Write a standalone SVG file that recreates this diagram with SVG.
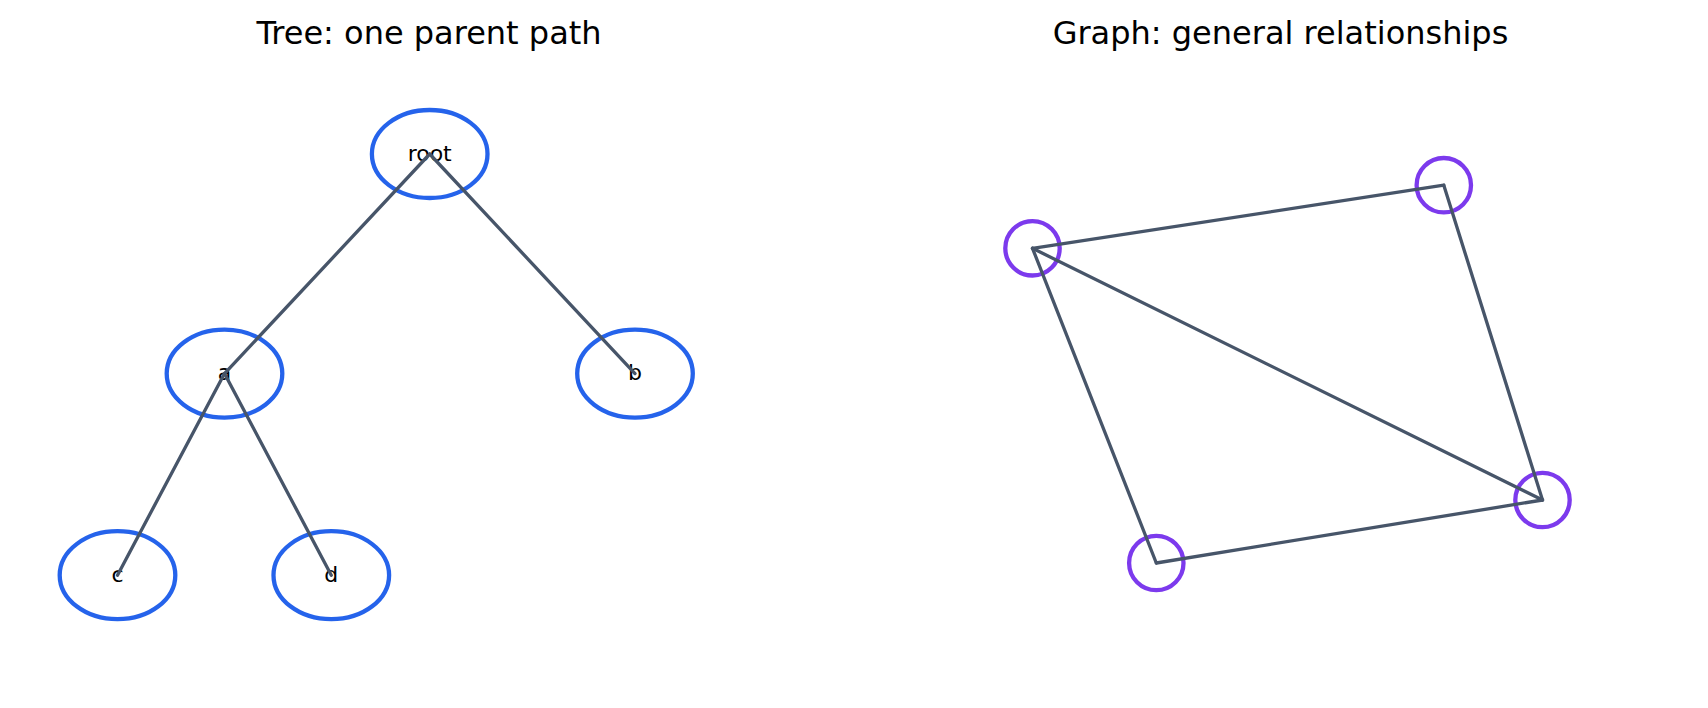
<svg xmlns="http://www.w3.org/2000/svg" width="1708" height="708" viewBox="0 0 1708 708">
<style>
.bg{fill:#ffffff}
.title{font-family:"DejaVu Sans","Liberation Sans",sans-serif;font-size:32px;fill:#000000;text-anchor:middle}
.lbl{font-family:"DejaVu Sans","Liberation Sans",sans-serif;font-size:22px;fill:#000000;text-anchor:middle}
.tnode{fill:none;stroke:#2563eb;stroke-width:4.3}
.gnode{fill:none;stroke:#7c3aed;stroke-width:4.3}
.edge{stroke:#475569;stroke-width:3.3;fill:none;stroke-linecap:round}
</style>
<rect class="bg" x="0" y="0" width="1708" height="708"/>
<text class="title" x="429" y="44">Tree: one parent path</text>
<text class="title" x="1280.5" y="44">Graph: general relationships</text>
<g id="tree-nodes">
<g id="node-root"><ellipse class="tnode" cx="429.7" cy="154" rx="57.8" ry="44"/><text class="lbl" x="429.7" y="160.5">root</text></g>
<g id="node-a"><ellipse class="tnode" cx="224.5" cy="373.6" rx="57.8" ry="44"/><text class="lbl" x="224.5" y="380">a</text></g>
<g id="node-b"><ellipse class="tnode" cx="635" cy="373.6" rx="57.8" ry="44"/><text class="lbl" x="635" y="380">b</text></g>
<g id="node-c"><ellipse class="tnode" cx="117.5" cy="575.2" rx="57.8" ry="44"/><text class="lbl" x="117.5" y="581.6">c</text></g>
<g id="node-d"><ellipse class="tnode" cx="331.3" cy="575.2" rx="57.8" ry="44"/><text class="lbl" x="331.3" y="581.6">d</text></g>
</g>
<g id="graph-nodes">
<g id="node-g1"><circle class="gnode" cx="1032.5" cy="248.3" r="27.2"/></g>
<g id="node-g2"><circle class="gnode" cx="1443.8" cy="185.2" r="27.2"/></g>
<g id="node-g3"><circle class="gnode" cx="1156.3" cy="563" r="27.2"/></g>
<g id="node-g4"><circle class="gnode" cx="1542.5" cy="500" r="27.2"/></g>
</g>
<g id="connectors">
<line class="edge" x1="429.7" y1="154" x2="224.5" y2="373.6"/>
<line class="edge" x1="429.7" y1="154" x2="635" y2="373.6"/>
<line class="edge" x1="224.5" y1="373.6" x2="117.5" y2="575.2"/>
<line class="edge" x1="224.5" y1="373.6" x2="331.3" y2="575.2"/>
<line class="edge" x1="1032.5" y1="248.3" x2="1443.8" y2="185.2"/>
<line class="edge" x1="1443.8" y1="185.2" x2="1542.5" y2="500"/>
<line class="edge" x1="1032.5" y1="248.3" x2="1542.5" y2="500"/>
<line class="edge" x1="1032.5" y1="248.3" x2="1156.3" y2="563"/>
<line class="edge" x1="1156.3" y1="563" x2="1542.5" y2="500"/>
</g>
</svg>
